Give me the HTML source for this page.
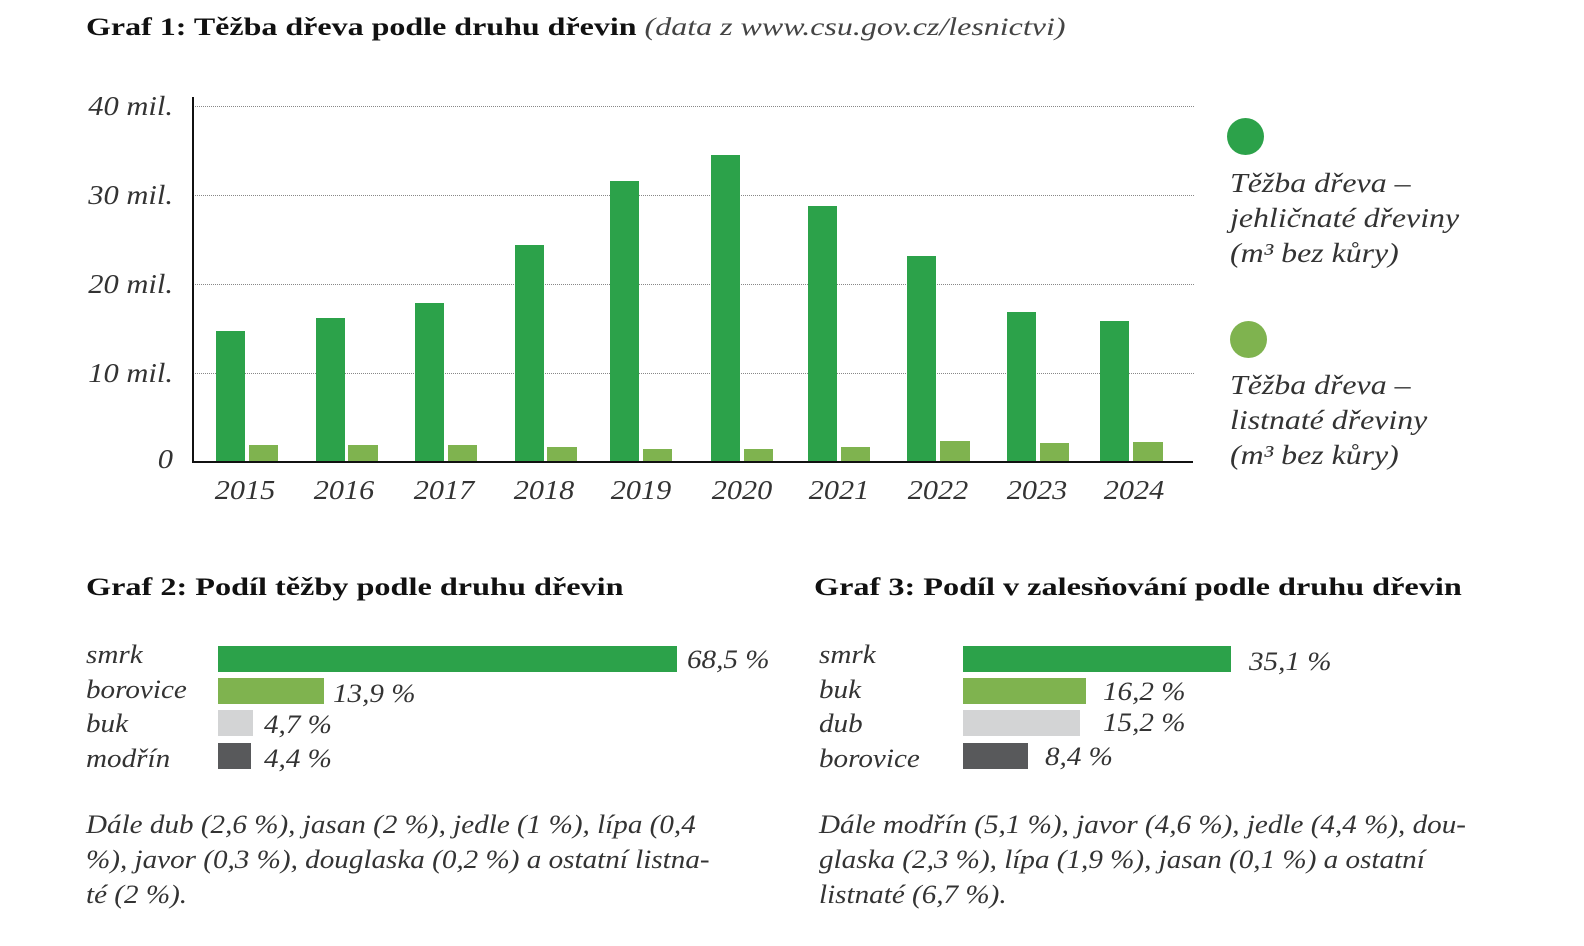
<!DOCTYPE html>
<html><head><meta charset="utf-8"><style>
html,body{margin:0;padding:0;background:#fff;}
body{width:1584px;height:946px;position:relative;overflow:hidden;font-family:"Liberation Serif",serif;color:#333;}
.a{position:absolute;white-space:nowrap;}
.i{font-style:italic;}
.t{font-weight:bold;font-size:25px;color:#111;transform:scaleX(1.29);transform-origin:left top;}
.g{position:absolute;left:193px;width:1001px;border-top:1px dotted #888;height:0;}
.b{position:absolute;}
.d{background:#2ca24a;}.l{background:#7fb34f;}.gr{background:#d3d4d5;}.dg{background:#58595b;}
.yl{font-size:27px;font-style:italic;text-align:right;width:95px;left:78px;transform:scaleX(1.13);transform-origin:right top;}
.xl{font-size:27px;font-style:italic;top:475px;width:80px;text-align:center;transform:scaleX(1.12);}
.c{font-size:26px;font-style:italic;transform:scaleX(1.12);transform-origin:left top;}
.lg{font-size:27px;line-height:35px;font-style:italic;transform:scaleX(1.18);transform-origin:left top;}
</style></head><body>
<div class="a t" style="left:86px;top:14px;transform:scaleX(1.28)">Graf 1: Těžba dřeva podle druhu dřevin <span style="font-weight:normal;font-style:italic;color:#444">(data z www.csu.gov.cz/lesnictvi)</span></div>

<div class="g" style="top:106px"></div><div class="g" style="top:195px"></div><div class="g" style="top:284px"></div><div class="g" style="top:373px"></div>
<div class="b" style="left:192px;top:97px;width:2px;height:366px;background:#111"></div>
<div class="b" style="left:192px;top:461px;width:1001px;height:2px;background:#111"></div>
<div class="a yl" style="top:91px">40 mil.</div>
<div class="a yl" style="top:180px">30 mil.</div>
<div class="a yl" style="top:269px">20 mil.</div>
<div class="a yl" style="top:358px">10 mil.</div>
<div class="a yl" style="top:444px">0</div>

<div class="b d" style="left:216px;top:331px;width:29px;height:130px"></div><div class="b l" style="left:249px;top:445px;width:29px;height:16px"></div>
<div class="b d" style="left:316px;top:318px;width:29px;height:143px"></div><div class="b l" style="left:348px;top:445px;width:30px;height:16px"></div>
<div class="b d" style="left:415px;top:303px;width:29px;height:158px"></div><div class="b l" style="left:448px;top:445px;width:29px;height:16px"></div>
<div class="b d" style="left:515px;top:245px;width:29px;height:216px"></div><div class="b l" style="left:547px;top:447px;width:30px;height:14px"></div>
<div class="b d" style="left:610px;top:181px;width:29px;height:280px"></div><div class="b l" style="left:643px;top:449px;width:29px;height:12px"></div>
<div class="b d" style="left:711px;top:155px;width:29px;height:306px"></div><div class="b l" style="left:744px;top:449px;width:29px;height:12px"></div>
<div class="b d" style="left:808px;top:206px;width:29px;height:255px"></div><div class="b l" style="left:841px;top:447px;width:29px;height:14px"></div>
<div class="b d" style="left:907px;top:256px;width:29px;height:205px"></div><div class="b l" style="left:940px;top:441px;width:30px;height:20px"></div>
<div class="b d" style="left:1007px;top:312px;width:29px;height:149px"></div><div class="b l" style="left:1040px;top:443px;width:29px;height:18px"></div>
<div class="b d" style="left:1100px;top:321px;width:29px;height:140px"></div><div class="b l" style="left:1133px;top:442px;width:30px;height:19px"></div>

<div class="a xl" style="left:205px">2015</div><div class="a xl" style="left:304px">2016</div><div class="a xl" style="left:404px">2017</div><div class="a xl" style="left:504px">2018</div><div class="a xl" style="left:601px">2019</div><div class="a xl" style="left:702px">2020</div><div class="a xl" style="left:799px">2021</div><div class="a xl" style="left:898px">2022</div><div class="a xl" style="left:997px">2023</div><div class="a xl" style="left:1094px">2024</div>

<div class="b d" style="left:1227px;top:118px;width:37px;height:37px;border-radius:50%"></div>
<div class="a lg" style="left:1230px;top:166px">Těžba dřeva –<br>jehličnaté dřeviny<br>(m³ bez kůry)</div>
<div class="b l" style="left:1230px;top:321px;width:37px;height:37px;border-radius:50%"></div>
<div class="a lg" style="left:1230px;top:368px">Těžba dřeva –<br>listnaté dřeviny<br>(m³ bez kůry)</div>

<div class="a t" style="left:86px;top:574px">Graf 2: Podíl těžby podle druhu dřevin</div>
<div class="a c" style="left:86px;top:640px">smrk</div><div class="a c" style="left:86px;top:675px">borovice</div><div class="a c" style="left:86px;top:709px">buk</div><div class="a c" style="left:86px;top:744px">modřín</div>
<div class="b d" style="left:218px;top:646px;width:459px;height:26px"></div><div class="a c" style="left:687px;top:645px">68,5 %</div>
<div class="b l" style="left:218px;top:678px;width:106px;height:26px"></div><div class="a c" style="left:333px;top:679px">13,9 %</div>
<div class="b gr" style="left:218px;top:710px;width:35px;height:26px"></div><div class="a c" style="left:264px;top:710px">4,7 %</div>
<div class="b dg" style="left:218px;top:743px;width:33px;height:26px"></div><div class="a c" style="left:264px;top:744px">4,4 %</div>
<div class="a c" style="left:86px;top:807px;line-height:35px">Dále dub (2,6 %), jasan (2 %), jedle (1 %), lípa (0,4<br>%), javor (0,3 %), douglaska (0,2 %) a ostatní listna-<br>té (2 %).</div>

<div class="a t" style="left:814px;top:574px">Graf 3: Podíl v zalesňování podle druhu dřevin</div>
<div class="a c" style="left:819px;top:640px">smrk</div><div class="a c" style="left:819px;top:675px">buk</div><div class="a c" style="left:819px;top:709px">dub</div><div class="a c" style="left:819px;top:744px">borovice</div>
<div class="b d" style="left:963px;top:646px;width:268px;height:26px"></div><div class="a c" style="left:1249px;top:647px">35,1 %</div>
<div class="b l" style="left:963px;top:678px;width:123px;height:26px"></div><div class="a c" style="left:1103px;top:677px">16,2 %</div>
<div class="b gr" style="left:963px;top:710px;width:117px;height:26px"></div><div class="a c" style="left:1103px;top:708px">15,2 %</div>
<div class="b dg" style="left:963px;top:743px;width:65px;height:26px"></div><div class="a c" style="left:1045px;top:742px">8,4 %</div>
<div class="a c" style="left:819px;top:807px;line-height:35px">Dále modřín (5,1 %), javor (4,6 %), jedle (4,4 %), dou-<br>glaska (2,3 %), lípa (1,9 %), jasan (0,1 %) a ostatní<br>listnaté (6,7 %).</div>
</body></html>
